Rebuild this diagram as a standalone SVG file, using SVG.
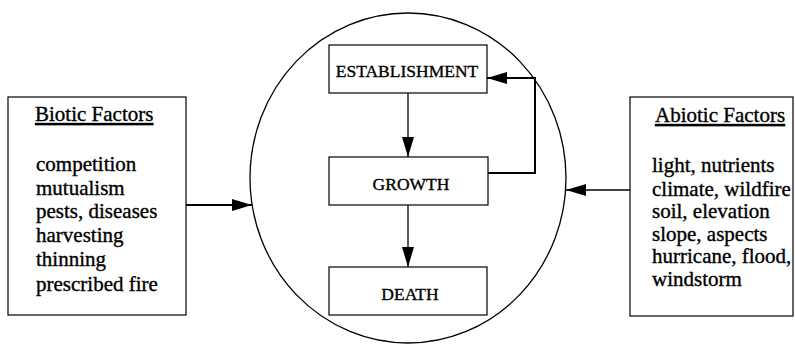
<svg xmlns="http://www.w3.org/2000/svg" width="795" height="344" viewBox="0 0 795 344">
<style>
  .box { fill: #fff; stroke: #000; stroke-width: 1.2; }
  .t { font-family: "Liberation Serif", "Times New Roman", serif; fill: #000; stroke: #000; stroke-width: 0.35; }
  .side { font-size: 21px; }
  .stage { font-size: 17.5px; }
  .ln { stroke: #000; fill: none; }
</style>
<defs>
  <marker id="ah" viewBox="0 0 20 12" refX="20" refY="6" markerWidth="20" markerHeight="12" markerUnits="userSpaceOnUse" orient="auto">
    <path d="M0,0 L20,6 L0,12 Z" fill="#000"/>
  </marker>
</defs>
<rect width="795" height="344" fill="#fff"/>
<ellipse cx="408" cy="178" rx="158" ry="165" fill="none" stroke="#000" stroke-width="1.3"/>

<g id="biotic">
  <rect class="box" x="8" y="97" width="178" height="218"/>
  <text class="t side" x="35" y="121" text-decoration="underline">Biotic Factors</text>
  <text class="t side" x="36" y="171">competition</text>
  <text class="t side" x="36" y="194.5">mutualism</text>
  <text class="t side" x="36" y="218">pests, diseases</text>
  <text class="t side" x="36" y="241.5">harvesting</text>
  <text class="t side" x="36" y="266">thinning</text>
  <text class="t side" x="36" y="291">prescribed fire</text>
</g>

<g id="abiotic">
  <rect class="box" x="630" y="97" width="163" height="219"/>
  <text class="t side" x="655" y="122" text-decoration="underline">Abiotic Factors</text>
  <text class="t side" x="652" y="172">light, nutrients</text>
  <text class="t side" x="652" y="195.5">climate, wildfire</text>
  <text class="t side" x="652" y="218">soil, elevation</text>
  <text class="t side" x="652" y="240.5">slope, aspects</text>
  <text class="t side" x="652" y="263">hurricane, flood,</text>
  <text class="t side" x="652" y="286">windstorm</text>
</g>

<g id="establishment">
  <rect class="box" x="329" y="45" width="158" height="48"/>
  <text class="t stage" x="407" y="77" text-anchor="middle">ESTABLISHMENT</text>
</g>
<g id="growth">
  <rect class="box" x="329" y="157" width="159" height="48"/>
  <text class="t stage" x="411" y="190" text-anchor="middle">GROWTH</text>
</g>
<g id="death">
  <rect class="box" x="329" y="267" width="158" height="48"/>
  <text class="t stage" x="410" y="300" text-anchor="middle">DEATH</text>
</g>

<g id="connectors">
  <line class="ln" x1="186" y1="205" x2="252" y2="205" stroke-width="2" marker-end="url(#ah)"/>
  <line class="ln" x1="630" y1="190" x2="566" y2="190" stroke-width="1.5" marker-end="url(#ah)"/>
  <line class="ln" x1="408" y1="93" x2="408" y2="157" stroke-width="1.3" marker-end="url(#ah)"/>
  <line class="ln" x1="408" y1="205" x2="408" y2="267" stroke-width="1.3" marker-end="url(#ah)"/>
  <polyline class="ln" points="488,173 535,173 535,78 487,78" stroke-width="2" marker-end="url(#ah)"/>
</g>
</svg>
